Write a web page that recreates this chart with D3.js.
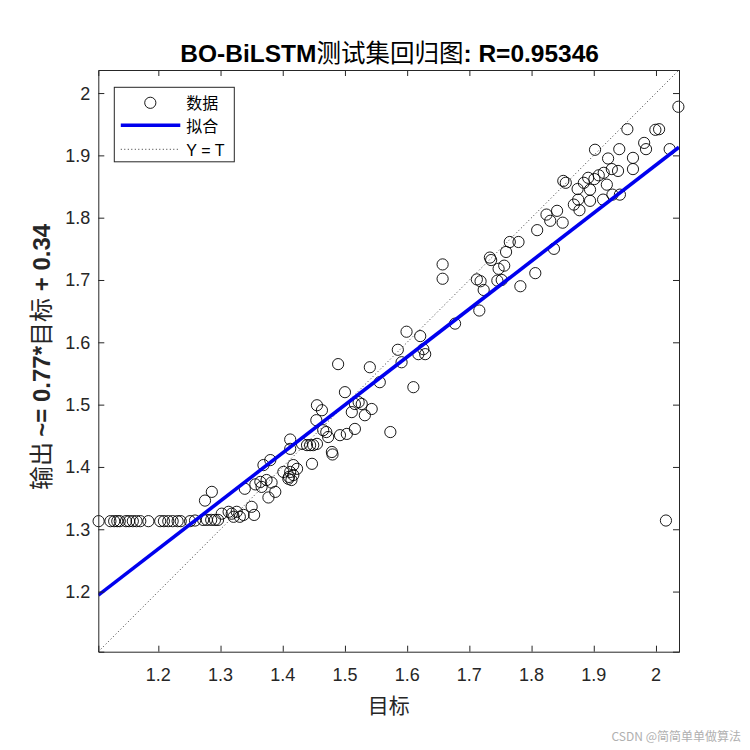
<!DOCTYPE html>
<html>
<head>
<meta charset="utf-8">
<script src="https://cdn.jsdelivr.net/npm/d3@7"></script>
<style>
    body { margin: 0; background: #ffffff; }
    text { font-family: "Liberation Sans", Arial, sans-serif; }
    .cjk { font-family: "Noto Sans CJK SC", sans-serif; font-weight: normal; }
</style>
</head>
<body>
<svg id="plot"></svg>
<script>
// Define data
const targets = [
    1.104, 1.123, 1.129, 1.134, 1.138, 1.148, 1.153, 1.159, 1.165, 1.171, 1.184, 1.203,
    1.209, 1.216, 1.223, 1.231, 1.236, 1.251, 1.259, 1.272, 1.278, 1.285, 1.291, 1.296,
    1.302, 1.313, 1.318, 1.321, 1.326, 1.331, 1.337, 1.354, 1.350, 1.275, 1.286,
    1.339, 1.356, 1.364, 1.366, 1.374, 1.382, 1.377, 1.388, 1.369, 1.380,
    1.401, 1.409, 1.412, 1.414, 1.417, 1.423, 1.417, 1.410, 1.412, 1.412,
    1.431, 1.439, 1.444, 1.449, 1.455, 1.447, 1.454, 1.455, 1.463, 1.465, 1.470, 1.473, 1.479, 1.480,
    1.492, 1.503, 1.516, 1.500, 1.511, 1.516, 1.522, 1.527, 1.532, 1.543, 1.489, 1.540, 1.556, 1.573,
    1.585, 1.591, 1.599, 1.610, 1.618, 1.621, 1.626, 1.629,
    1.657, 1.657, 1.677, 1.712, 1.716, 1.718, 1.723, 1.733, 1.735, 1.745, 1.747, 1.752, 1.756,
    1.759, 1.765, 1.779, 1.782, 1.806, 1.809,
    1.836, 1.824, 1.830, 1.841, 1.850, 1.851, 1.855, 1.868, 1.877, 1.874, 1.875, 1.884, 1.891,
    1.894, 1.894, 1.901, 1.908, 1.916, 1.921, 1.915, 1.930, 1.942, 1.939, 1.929, 1.923, 1.963,
    1.963, 1.902, 1.941, 1.954, 1.981, 1.984, 1.999, 2.005, 2.022, 2.036, 2.016
];
const outputs = [
    1.313, 1.313, 1.313, 1.313, 1.313, 1.313, 1.313, 1.313, 1.313, 1.313, 1.313, 1.313,
    1.313, 1.313, 1.313, 1.313, 1.313, 1.313, 1.314, 1.315, 1.315, 1.315, 1.315, 1.315,
    1.325, 1.328, 1.325, 1.320, 1.328, 1.320, 1.323, 1.323, 1.336, 1.346, 1.360,
    1.365, 1.372, 1.376, 1.368, 1.379, 1.375, 1.351, 1.360, 1.403, 1.411,
    1.392, 1.381, 1.392, 1.379, 1.403, 1.397, 1.387, 1.384, 1.429, 1.444,
    1.437, 1.435, 1.435, 1.435, 1.437, 1.405, 1.475, 1.499, 1.491, 1.459, 1.456, 1.448, 1.424, 1.420,
    1.451, 1.453, 1.461, 1.520, 1.488, 1.501, 1.504, 1.501, 1.483, 1.493, 1.565, 1.560, 1.536, 1.456,
    1.588, 1.568, 1.617, 1.528, 1.581, 1.610, 1.589, 1.581,
    1.725, 1.702, 1.630, 1.701, 1.651, 1.698, 1.684, 1.736, 1.732, 1.699, 1.718, 1.700, 1.723,
    1.745, 1.761, 1.761, 1.690, 1.711, 1.780,
    1.750, 1.805, 1.795, 1.811, 1.792, 1.859, 1.856, 1.821, 1.812, 1.846, 1.829, 1.856, 1.864,
    1.845, 1.827, 1.862, 1.868, 1.872, 1.853, 1.829, 1.837, 1.837, 1.875, 1.878, 1.895, 1.878,
    1.896, 1.909, 1.910, 1.942, 1.920, 1.910, 1.941, 1.942, 1.910, 1.978, 1.314
];
const ticks = [1.2, 1.3, 1.4, 1.5, 1.6, 1.7, 1.8, 1.9, 2.0];
const tickLabels = ['1.2', '1.3', '1.4', '1.5', '1.6', '1.7', '1.8', '1.9', '2'];
const limits = [1.1035, 2.037];
const fitSlope = 0.770;
const fitIntercept = 0.3445;
const legendLabels = ['数据', '拟合', 'Y = T'];

let width = 750;
let height = 750;
let box = { left: 98.3, right: 679, top: 70, bottom: 651.7 };
let axisColor = '#262626';

let svg = d3.select('#plot')
    .attr('width', width)
    .attr('height', height)
    .style('background', '#FFFFFF');

let xScale = d3.scaleLinear().domain(limits).range([box.left, box.right]);
let yScale = d3.scaleLinear().domain(limits).range([box.bottom, box.top]);

svg.append('clipPath').attr('id', 'clip')
    .append('rect')
    .attr('x', box.left).attr('y', box.top)
    .attr('width', box.right - box.left).attr('height', box.bottom - box.top);

// Y = T line
svg.append('line')
    .attr('clip-path', 'url(#clip)')
    .attr('x1', xScale(limits[0])).attr('y1', yScale(limits[0]))
    .attr('x2', xScale(limits[1])).attr('y2', yScale(limits[1]))
    .attr('stroke', '#333333')
    .attr('stroke-width', 1)
    .attr('stroke-dasharray', '1,2.5');

// data points
let data = targets.map((t, i) => ({ t: t, y: outputs[i] }));
svg.append('g').selectAll('circle')
    .data(data)
    .enter()
    .append('circle')
    .attr('cx', d => xScale(d.t))
    .attr('cy', d => yScale(d.y))
    .attr('r', 5.6)
    .attr('fill', 'none')
    .attr('stroke', '#000000')
    .attr('stroke-width', 0.9);

// fit line
svg.append('line')
    .attr('clip-path', 'url(#clip)')
    .attr('x1', xScale(limits[0])).attr('y1', yScale(fitSlope * limits[0] + fitIntercept))
    .attr('x2', xScale(limits[1])).attr('y2', yScale(fitSlope * limits[1] + fitIntercept))
    .attr('stroke', '#0000ee')
    .attr('stroke-width', 3.6);

// axes (ticks inside, box on)
const tickLen = 6;
let xBottom = svg.append('g')
    .attr('transform', `translate(0, ${box.bottom})`)
    .call(d3.axisTop(xScale).tickValues(ticks).tickSize(tickLen).tickFormat(''));
let xTop = svg.append('g')
    .attr('transform', `translate(0, ${box.top})`)
    .call(d3.axisBottom(xScale).tickValues(ticks).tickSize(tickLen).tickFormat(''));
let yLeft = svg.append('g')
    .attr('transform', `translate(${box.left}, 0)`)
    .call(d3.axisRight(yScale).tickValues(ticks).tickSize(tickLen).tickFormat(''));
let yRight = svg.append('g')
    .attr('transform', `translate(${box.right}, 0)`)
    .call(d3.axisLeft(yScale).tickValues(ticks).tickSize(tickLen).tickFormat(''));
[xBottom, xTop, yLeft, yRight].forEach(g => {
    g.selectAll('path').attr('stroke', axisColor).attr('stroke-width', 1);
    g.selectAll('line').attr('stroke', axisColor).attr('stroke-width', 1);
});

// tick labels
svg.append('g').selectAll('text')
    .data(ticks)
    .enter()
    .append('text')
    .attr('x', d => xScale(d))
    .attr('y', box.bottom + 29)
    .attr('text-anchor', 'middle')
    .style('font-size', '18px')
    .style('fill', axisColor)
    .text((d, i) => tickLabels[i]);

svg.append('g').selectAll('text')
    .data(ticks)
    .enter()
    .append('text')
    .attr('x', box.left - 8)
    .attr('y', d => yScale(d) + 6.5)
    .attr('text-anchor', 'end')
    .style('font-size', '18px')
    .style('fill', axisColor)
    .text((d, i) => tickLabels[i]);

// title
let title = svg.append('text')
    .attr('x', (box.left + box.right) / 2 + 1)
    .attr('y', 62)
    .attr('text-anchor', 'middle')
    .style('font-size', '24.5px')
    .style('font-weight', 'bold')
    .style('fill', '#000000');
title.append('tspan').text('BO-BiLSTM');
title.append('tspan').attr('class', 'cjk').text('测试集回归图');
title.append('tspan').text(': R=0.95346');

// x label
svg.append('text')
    .attr('class', 'cjk')
    .attr('x', (box.left + box.right) / 2)
    .attr('y', 713)
    .attr('text-anchor', 'middle')
    .style('font-size', '21px')
    .style('fill', axisColor)
    .text('目标');

// y label
let ylab = svg.append('text')
    .attr('transform', `translate(50, 357) rotate(-90)`)
    .attr('text-anchor', 'middle')
    .style('font-size', '24px')
    .style('font-weight', 'bold')
    .style('fill', axisColor);
ylab.append('tspan').attr('class', 'cjk').text('输出 ');
ylab.append('tspan').text('~= 0.77*');
ylab.append('tspan').attr('class', 'cjk').text('目标');
ylab.append('tspan').text(' + 0.34');

// legend
let legend = svg.append('g')
    .attr('class', 'legend')
    .attr('transform', 'translate(114.3, 87.3)');

legend.append('rect')
    .attr('x', 0).attr('y', 0)
    .attr('width', 120).attr('height', 74.5)
    .attr('fill', '#ffffff')
    .attr('stroke', axisColor)
    .attr('stroke-width', 1);

legend.append('circle')
    .attr('cx', 36).attr('cy', 15.5)
    .attr('r', 5.6)
    .attr('fill', 'none')
    .attr('stroke', '#000000')
    .attr('stroke-width', 0.9);

legend.append('line')
    .attr('x1', 6.5).attr('x2', 66)
    .attr('y1', 38).attr('y2', 38)
    .attr('stroke', '#0000ee')
    .attr('stroke-width', 3.6);

legend.append('line')
    .attr('x1', 6.5).attr('x2', 66)
    .attr('y1', 62).attr('y2', 62)
    .attr('stroke', '#333333')
    .attr('stroke-width', 1)
    .attr('stroke-dasharray', '1,2.5');

legend.selectAll('text.lab')
    .data(legendLabels)
    .enter()
    .append('text')
    .attr('class', (d, i) => i < 2 ? 'lab cjk' : 'lab')
    .attr('x', 72)
    .attr('y', (d, i) => 15.5 + i * 23.5 + 6)
    .style('font-size', '16px')
    .style('fill', '#000000')
    .text(d => d);

// watermark
svg.append('text')
    .attr('class', 'cjk')
    .attr('x', 741)
    .attr('y', 741)
    .attr('text-anchor', 'end')
    .style('font-size', '12px')
    .style('fill', '#b0b0b0')
    .text('CSDN @简简单单做算法');
</script>
</body>
</html>
